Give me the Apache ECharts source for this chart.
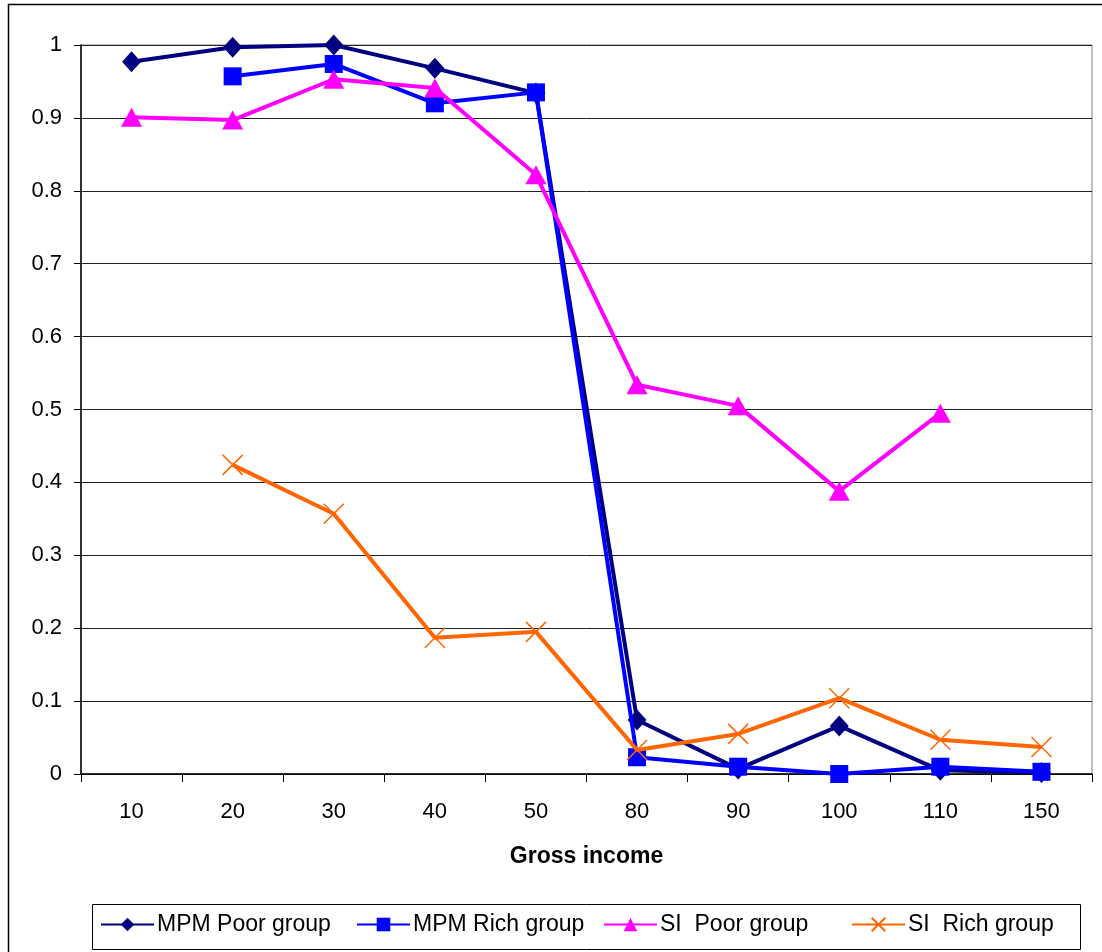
<!DOCTYPE html>
<html>
<head>
<meta charset="utf-8">
<script src="https://cdn.jsdelivr.net/npm/echarts@6/dist/echarts.min.js"></script>
<style>html,body{margin:0;padding:0;background:#fff;}#c{width:1102px;height:952px;}</style>
</head>
<body>
<div id="c"></div>
<script>
const categories = ['10','20','30','40','50','80','90','100','110','150'];
const mpmPoor = [0.977, 0.997, 1.0, 0.968, 0.934, 0.074, 0.007, 0.066, 0.005, 0.002];
const mpmRich = [null, 0.957, 0.974, 0.920, 0.935, 0.023, 0.010, 0.000, 0.010, 0.003];
const siPoor  = [0.901, 0.897, 0.953, 0.941, 0.822, 0.534, 0.505, 0.388, 0.495, null];
const siRich  = [null, 0.424, 0.357, 0.187, 0.195, 0.033, 0.055, 0.104, 0.047, 0.037];
const yTicks = [0, 0.1, 0.2, 0.3, 0.4, 0.5, 0.6, 0.7, 0.8, 0.9, 1];

const FONT = 'Liberation Sans, Arial, sans-serif';
const chart = echarts.init(document.getElementById('c'), null, {renderer: 'canvas'});
const xPath = 'path://M0,0L10,10M0,10L10,0';

function legend(name, left) {
  return {
    data: [name], left: left, top: 913, itemWidth: 53, itemHeight: 17, itemGap: 0,
    textStyle: {fontFamily: FONT, fontSize: 23, color: '#000', padding: [0,0,0,-2]},
    padding: 0
  };
}

chart.setOption({
  animation: false,
  backgroundColor: '#fff',
  grid: {left: 81, right: 10, top: 45, bottom: 178, show: true, borderColor: '#808080', borderWidth: 1},
  graphic: [
    {type: 'rect', shape: {x: 8.5, y: 4.5, width: 1120, height: 980}, style: {fill: 'none', stroke: '#000', lineWidth: 1.5}, silent: true, z: -1},
    {type: 'rect', shape: {x: 92.5, y: 904.5, width: 988, height: 45}, style: {fill: 'none', stroke: '#000', lineWidth: 1}, silent: true, z: -1}
  ],
  legend: [
    legend('MPM Poor group', 100),
    legend('MPM Rich group', 356),
    legend('SI  Poor group', 603),
    legend('SI  Rich group', 851)
  ],
  xAxis: {
    type: 'category', data: categories, boundaryGap: true,
    name: 'Gross income', nameLocation: 'middle', nameGap: 71,
    nameTextStyle: {fontFamily: FONT, fontSize: 23, fontWeight: 'bold', color: '#000'},
    axisLine: {lineStyle: {color: '#000', width: 1.5}},
    axisTick: {show: true, length: 8, inside: false, lineStyle: {color: '#000'}},
    axisLabel: {fontFamily: FONT, fontSize: 22, color: '#000', margin: 27}
  },
  yAxis: {
    type: 'value', min: 0, max: 1, interval: 0.1,
    axisLine: {show: true, lineStyle: {color: '#000', width: 1.5}},
    axisTick: {show: true, length: 7, lineStyle: {color: '#000'}},
    axisLabel: {fontFamily: FONT, fontSize: 22, color: '#000', margin: 19,
      formatter: v => { const t = yTicks.find(x => Math.abs(x - v) < 1e-9); return t === undefined ? '' : String(t); }},
    splitLine: {show: true, lineStyle: {color: '#222', width: 1}}
  },
  series: [
    {name: 'MPM Poor group', type: 'line', data: mpmPoor, symbol: 'diamond', symbolSize: [19, 21],
      lineStyle: {color: '#000080', width: 4}, itemStyle: {color: '#000080'}, z: 3},
    {name: 'MPM Rich group', type: 'line', data: mpmRich, symbol: 'rect', symbolSize: 18,
      lineStyle: {color: '#0000FF', width: 4}, itemStyle: {color: '#0000FF'}, z: 4},
    {name: 'SI  Poor group', type: 'line', data: siPoor, symbol: 'triangle', symbolSize: [21, 19],
      lineStyle: {color: '#FF00FF', width: 4}, itemStyle: {color: '#FF00FF'}, z: 5},
    {name: 'SI  Rich group', type: 'line', data: siRich, symbol: xPath, symbolSize: 20,
      lineStyle: {color: '#FF6600', width: 4}, itemStyle: {color: 'rgba(0,0,0,0)', borderColor: '#FF6600', borderWidth: 1.5}, z: 6}
  ]
});
</script>
</body>
</html>
